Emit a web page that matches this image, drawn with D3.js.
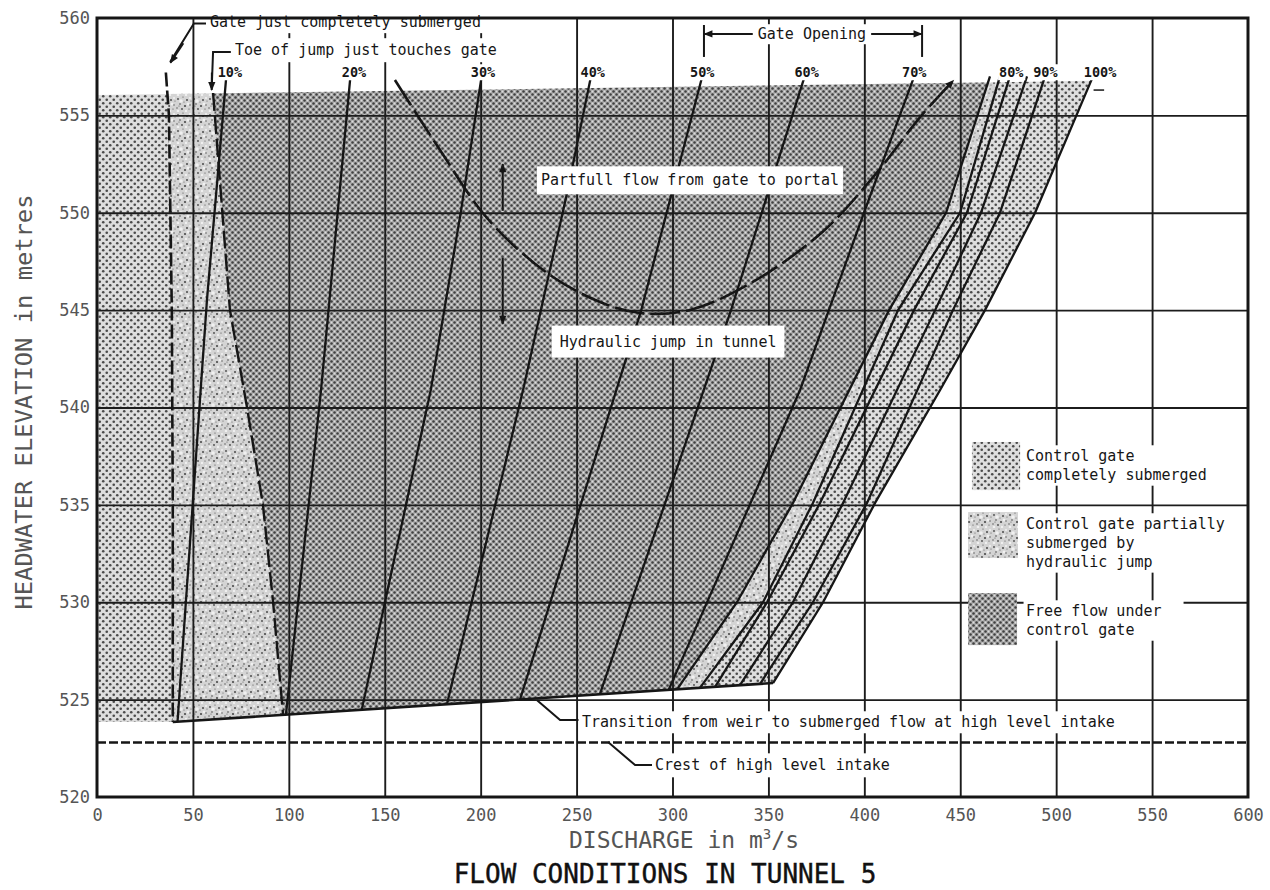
<!DOCTYPE html>
<html>
<head>
<meta charset="utf-8">
<script src="https://cdn.jsdelivr.net/npm/d3@7"></script>
<style>
  body { margin: 0; background: #fff; }
  svg { display: block; }
  .mono { font-family: "DejaVu Sans Mono", "Liberation Mono", monospace; }
</style>
</head>
<body>
<div id="chart"></div>
<script>
// ---- data (discharge m3/s, elevation m) ----
const xTicks = [0, 50, 100, 150, 200, 250, 300, 350, 400, 450, 500, 550, 600];
const yTicks = [520, 525, 530, 535, 540, 545, 550, 555, 560];
const xGrid = [50, 100, 150, 200, 250, 300, 350, 400, 450, 500, 550];
const yGrid = [525, 530, 535, 540, 545, 550, 555];

const gateLabels = ["10%", "20%", "30%", "40%", "50%", "60%", "70%", "80%", "90%", "100%"];
const gateLabelQ = [69.3, 134, 201.2, 258.4, 315.5, 369.9, 426, 476.6, 494.4, 522.9];

// gate opening curves
const gate10 = [[67.4, 557.0], [57.3, 545.5], [42.0, 523.9]];
const gate20 = [[132.1, 557.0], [116.8, 540.9], [98.5, 524.24]];
const gate30 = [[200.5, 557.0], [189.6, 550.0], [174.0, 540.9], [138.0, 524.48]];
const gate40 = [[257.5, 557.0], [245.0, 551.0], [222.1, 540.9], [182.5, 524.8]];
const gate50 = [[315.5, 557.0], [283.7, 545.0], [220.5, 525.0]];
const gate60 = [[368.9, 557.0], [330.5, 545.0], [262.2, 525.3]];
const gate70 = [[426.0, 557.0], [399.8, 550.0], [366.5, 540.9], [298.0, 525.5]];

// right hand band edges (80% .. 100%)
const band1 = [[465.5, 557], [442.6, 550], [412.9, 545], [362.8, 535.1], [333.6, 530], [302.4, 525.53]];
const band2 = [[470.7, 557], [449.9, 550], [417.6, 545], [373.2, 535.1], [347.2, 530], [314.3, 525.6]];
const band3 = [[475.9, 557], [453.5, 550], [425.9, 545], [376.9, 535.1], [349.3, 530], [322.2, 525.65]];
const band4 = [[484.8, 557], [460.8, 550], [436.9, 545], [388.9, 535.1], [362.8, 530], [335.2, 525.75]];
const band5 = [[494.2, 557], [470.7, 550], [446.2, 545], [401.4, 535.1], [373.2, 530], [345.6, 525.8]];
const outerEdge = [[519.2, 557], [489, 550], [462.9, 545], [439.5, 540.9], [405.6, 535.1], [378.5, 530], [352.4, 525.85]];

// left hand boundaries
const submergedLine = [[35.9, 557.2], [37.5, 555], [39, 545], [39.5, 535], [39.5, 523.85]];
const toeLine = [[60.5, 556.15], [69.3, 545], [78.2, 540], [86.5, 535], [91.8, 530], [97, 524.22]];
const lowerEdge = [[39.5, 523.85], [352.4, 525.85]];
const shadeTop = [[0, 556.05], [470, 556.7], [530, 556.8]];
const crestLevel = 522.8;

// hydraulic jump / partfull flow boundary
const jumpCurve = [[155.3, 556.82], [178.8, 553.22], [203.3, 549.73], [234.6, 546.91], [262.2, 545.42],
  [283.1, 544.85], [309.1, 545.01], [341, 546.4], [378, 549], [406, 552], [429, 554.9], [446.5, 556.8]];

// ---- chart ----
const W = 1270, H = 890;
const x = d3.scaleLinear().domain([0, 600]).range([97, 1248]);
const y = d3.scaleLinear().domain([520, 560]).range([797, 18]);
const line = d3.line().x(d => x(d[0])).y(d => y(d[1]));
const ink = "#161616";

const svg = d3.select("#chart").append("svg")
  .attr("width", W).attr("height", H)
  .style("background", "#fff");
const defs = svg.append("defs");

// halftone patterns
const pDark = defs.append("pattern").attr("id", "pDark")
  .attr("width", 6).attr("height", 6).attr("patternUnits", "userSpaceOnUse");
pDark.append("rect").attr("width", 6).attr("height", 6).attr("fill", "#ababab");
pDark.selectAll("circle.k").data([[1.5, 1.5], [4.5, 4.5]]).join("circle").attr("class", "k")
  .attr("cx", d => d[0]).attr("cy", d => d[1]).attr("r", 1.25).attr("fill", "#404040");
pDark.selectAll("circle.w").data([[4.5, 1.5], [1.5, 4.5]]).join("circle").attr("class", "w")
  .attr("cx", d => d[0]).attr("cy", d => d[1]).attr("r", 0.9).attr("fill", "#dcdcdc");

const pDots = defs.append("pattern").attr("id", "pDots")
  .attr("width", 7).attr("height", 7).attr("patternUnits", "userSpaceOnUse");
pDots.append("rect").attr("width", 7).attr("height", 7).attr("fill", "#dedede");
pDots.selectAll("circle").data([[1.75, 1.75], [5.25, 5.25]]).join("circle")
  .attr("cx", d => d[0]).attr("cy", d => d[1]).attr("r", 1.3).attr("fill", "#4a4a4a");

const pSpeck = defs.append("pattern").attr("id", "pSpeck")
  .attr("width", 16).attr("height", 16).attr("patternUnits", "userSpaceOnUse");
pSpeck.append("rect").attr("width", 16).attr("height", 16).attr("fill", "#d4d4d4");
pSpeck.selectAll("circle.w").data([[5, 5, 1.8], [12, 8, 1.5], [2, 15, 1.3], [10, 15, 1.2], [14, 2, 1.1]])
  .join("circle").attr("class", "w")
  .attr("cx", d => d[0]).attr("cy", d => d[1]).attr("r", d => d[2]).attr("fill", "#f0f0f0");
pSpeck.selectAll("circle.k").data([[2, 3, 0.9], [7, 1, 0.6], [11, 4, 1], [14, 9, 0.7], [4, 8, 0.8],
  [9, 10, 1.1], [1, 12, 0.7], [6, 13, 0.9], [13, 13, 0.6], [15, 5, 0.5], [8, 6, 0.5], [3, 10, 0.5]])
  .join("circle").attr("class", "k")
  .attr("cx", d => d[0]).attr("cy", d => d[1]).attr("r", d => d[2]).attr("fill", "#4a4a4a");

// arrow head
defs.append("marker").attr("id", "arrow")
  .attr("viewBox", "0 -5 10 10").attr("refX", 9).attr("refY", 0)
  .attr("markerWidth", 11).attr("markerHeight", 9).attr("markerUnits", "userSpaceOnUse")
  .attr("orient", "auto")
  .append("path").attr("d", "M0,-4L10,0L0,4Z").attr("fill", ink);

// clip the shaded zones at the top of the shading
defs.append("clipPath").attr("id", "shadeClip").append("path")
  .attr("d", line(shadeTop.concat([[600, 556.8], [600, 520], [0, 520]])) + "Z");

// ---- shaded flow regions ----
const rev = a => a.slice().reverse();
const regions = [
  { pts: [[0, 557.2]].concat(submergedLine, [[0, 523.85]]), fill: "url(#pDots)" },
  { pts: submergedLine.concat(rev(toeLine)), fill: "url(#pSpeck)" },
  { pts: toeLine.concat(rev(band1)), fill: "url(#pDark)" },
  { pts: band1.concat(rev(band2)), fill: "url(#pSpeck)" },
  { pts: band2.concat(rev(outerEdge)), fill: "url(#pDots)" }
];
svg.append("g").attr("clip-path", "url(#shadeClip)")
  .selectAll("path").data(regions).join("path")
  .attr("d", d => line(d.pts) + "Z")
  .attr("fill", d => d.fill);

// ---- grid ----
const gridX = svg.append("g").attr("transform", `translate(0,${y(520)})`)
  .call(d3.axisBottom(x).tickValues(xGrid).tickSize(-(y(520) - y(560))).tickFormat(""));
const gridY = svg.append("g").attr("transform", `translate(${x(0)},0)`)
  .call(d3.axisLeft(y).tickValues(yGrid).tickSize(-(x(600) - x(0))).tickFormat(""));
[gridX, gridY].forEach(g => {
  g.select(".domain").remove();
  g.selectAll("line").attr("stroke", "#1c1c1c").attr("stroke-width", 1.9);
});

// ---- curves ----
const curves = svg.append("g").attr("fill", "none").attr("stroke", ink);
curves.selectAll("path.gate")
  .data([gate10, gate20, gate30, gate40, gate50, gate60, gate70, band1, band2, band3, band4, band5, outerEdge])
  .join("path").attr("class", "gate")
  .attr("d", line).attr("stroke-width", 2.3);

curves.append("path").attr("d", line(lowerEdge)).attr("stroke-width", 2.6);
curves.append("path").attr("d", line(submergedLine)).attr("stroke-width", 2.6).attr("stroke-dasharray", "14,4");
curves.append("path").attr("d", line(toeLine)).attr("stroke-width", 2.4).attr("stroke-dasharray", "18,5");
curves.append("path").attr("d", line([[0, crestLevel], [600, crestLevel]]))
  .attr("stroke-width", 2.4).attr("stroke-dasharray", "9,3");
curves.append("path").attr("d", line.curve(d3.curveCatmullRom)(jumpCurve))
  .attr("stroke-width", 2.6).attr("stroke-dasharray", "30,6")
  .attr("marker-end", "url(#arrow)");
line.curve(d3.curveLinear);

// leaders and arrows
const leaders = [
  [[57.3, 559.72], [50.5, 559.72], [38.1, 557.74]],
  [[69.8, 558.25], [60.5, 558.25], [59.8, 556.4]],
  [[229.4, 524.97], [241.4, 523.95], [251, 523.95]],
  [[266.4, 522.82], [280.5, 521.64], [289.3, 521.64]]
];
curves.selectAll("path.leader").data(leaders).join("path").attr("class", "leader")
  .attr("d", line).attr("stroke-width", 2);
curves.append("path").attr("d", line([[519.5, 556.3], [525, 556.3]])).attr("stroke-width", 1.5);
curves.selectAll("path.arr")
  .data([[[211.5, 550.1], [211.5, 552.5]], [[211.5, 547.7], [211.5, 544.3]],
         [[372.7, 559.18], [316.6, 559.18]], [[372.7, 559.18], [429.9, 559.18]],
         [[45, 558.7], [38.3, 557.7]], [[59.9, 557.2], [59.8, 556.3]]])
  .join("path").attr("class", "arr")
  .attr("d", line).attr("stroke-width", 2).attr("marker-end", "url(#arrow)");
curves.selectAll("path.tick")
  .data([[[316.4, 559.64], [316.4, 558.0]], [[430.1, 559.64], [430.1, 558.0]]])
  .join("path").attr("class", "tick").attr("d", line).attr("stroke-width", 2);

// ---- annotation text ----
const notes = svg.append("g").attr("class", "mono").attr("fill", ink);
function note(txt, q, e, anchor, size, padX, padY, weight) {
  const g = notes.append("g");
  const t = g.append("text")
    .attr("x", x(q)).attr("y", y(e)).attr("dy", "0.35em")
    .attr("text-anchor", anchor).attr("font-size", size)
    .attr("font-weight", weight || "normal")
    .text(txt);
  if (padX != null) {
    const b = t.node().getBBox();
    g.insert("rect", () => t.node())
      .attr("x", b.x - padX).attr("y", b.y - padY)
      .attr("width", b.width + 2 * padX).attr("height", b.height + 2 * padY)
      .attr("fill", "#fff");
  }
  return t;
}
note("Gate just completely submerged", 58.9, 559.8, "start", 15, 4, 2);
note("Toe of jump just touches gate", 71.9, 558.36, "start", 15, 4, 3);
note("Gate Opening", 372.7, 559.18, "middle", 15, 5, 1);
gateLabels.forEach((lab, i) => note(lab, gateLabelQ[i], 557.2, "middle", 13.5, 1, 0, "bold"));
note("Partfull flow from gate to portal", 309.1, 551.68, "middle", 15, 4, 5);
note("Hydraulic jump in tunnel", 297.7, 543.4, "middle", 15, 8, 7);
note("Transition from weir to submerged flow at high level intake", 252.8, 523.85, "start", 15, 3, 2);
note("Crest of high level intake", 290.9, 521.64, "start", 15, 3, 3);

// ---- legend ----
const legendItems = [
  { fill: "url(#pDots)", box: [456.1, 481.2, 538.23, 535.76], lines: ["Control gate", "completely submerged"], top: 537.51 },
  { fill: "url(#pSpeck)", box: [454.1, 480.1, 534.63, 532.27], lines: ["Control gate partially", "submerged by", "hydraulic jump"], top: 534.02 },
  { fill: "url(#pDark)", box: [454.1, 479.6, 530.47, 527.8], lines: ["Free flow under", "control gate"], top: 529.55 }
];
const legend = svg.append("g").attr("class", "mono");
legendItems.forEach(it => {
  const lineStep = 0.975; // one text line, in metres of elevation
  const bx = x(483.0), by = y(it.top + 0.55);
  const bh = y(it.top - lineStep * (it.lines.length - 1) - 0.55) - by;
  legend.append("rect").attr("x", bx).attr("y", by)
    .attr("width", it.lines.length === 3 ? 212 : 160).attr("height", bh).attr("fill", "#fff");
  legend.append("rect")
    .attr("x", x(it.box[0])).attr("y", y(it.box[2]))
    .attr("width", x(it.box[1]) - x(it.box[0])).attr("height", y(it.box[3]) - y(it.box[2]))
    .attr("fill", it.fill);
  it.lines.forEach((t, j) => {
    legend.append("text")
      .attr("x", x(484.3)).attr("y", y(it.top - lineStep * j)).attr("dy", "0.35em")
      .attr("font-size", 15).attr("fill", ink).text(t);
  });
});

// ---- axes ----
const xAxis = svg.append("g").attr("transform", `translate(0,${y(520)})`)
  .call(d3.axisBottom(x).tickValues(xTicks).tickSize(0).tickPadding(12));
const yAxis = svg.append("g").attr("transform", `translate(${x(0)},0)`)
  .call(d3.axisLeft(y).tickValues(yTicks).tickSize(0).tickPadding(7));
[xAxis, yAxis].forEach(g => {
  g.select(".domain").remove();
  g.selectAll("text").attr("font-family", "DejaVu Sans Mono, monospace")
    .attr("font-size", 17).attr("fill", "#555");
});

// frame
svg.append("rect")
  .attr("x", x(0)).attr("y", y(560))
  .attr("width", x(600) - x(0)).attr("height", y(520) - y(560))
  .attr("fill", "none").attr("stroke", ink).attr("stroke-width", 3);

// titles
const xTitle = svg.append("text").attr("class", "mono")
  .attr("x", 684).attr("y", 848).attr("text-anchor", "middle")
  .attr("font-size", 23).attr("fill", "#555");
xTitle.append("tspan").text("DISCHARGE in m");
xTitle.append("tspan").attr("dy", -9).attr("font-size", 14).text("3");
xTitle.append("tspan").attr("dy", 9).text("/s");

svg.append("text").attr("class", "mono")
  .attr("transform", "translate(24,402) rotate(-90)")
  .attr("text-anchor", "middle").attr("dy", "0.35em")
  .attr("font-size", 23).attr("fill", "#555")
  .attr("textLength", 415).attr("lengthAdjust", "spacingAndGlyphs")
  .text("HEADWATER ELEVATION in metres");

svg.append("text").attr("class", "mono")
  .attr("x", 665).attr("y", 883).attr("text-anchor", "middle")
  .attr("font-size", 26).attr("fill", "#111")
  .attr("stroke", "#111").attr("stroke-width", 0.4)
  .text("FLOW CONDITIONS IN TUNNEL 5");
</script>
</body>
</html>
